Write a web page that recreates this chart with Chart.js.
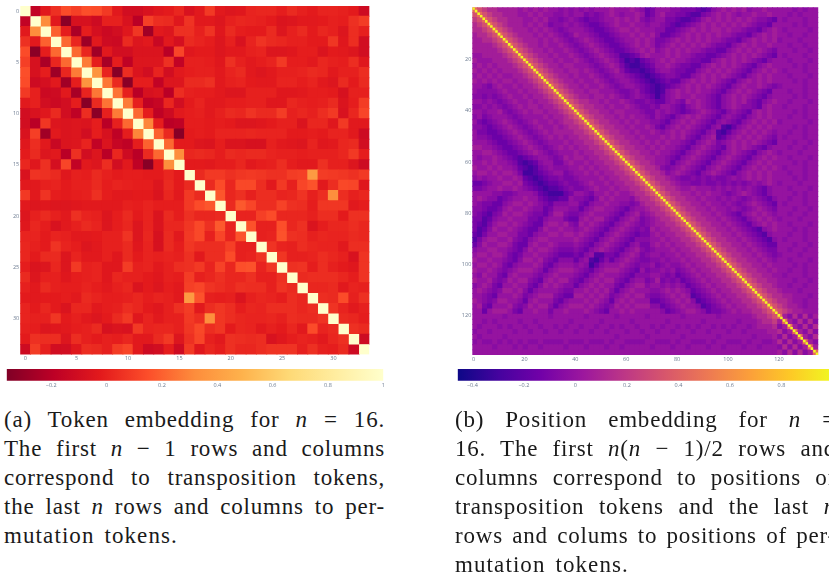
<!DOCTYPE html>
<html>
<head>
<meta charset="utf-8">
<title>Embedding heatmaps</title>
<script src="https://cdn.jsdelivr.net/npm/chart.js@4/dist/chart.umd.min.js"></script>
<style>
html, body { margin: 0; padding: 0; background: #fff; width: 829px; height: 578px; overflow: hidden; }
canvas { position: absolute; }
.line { position: absolute; width: 381px; height: 29px; line-height: 29px; font-family: "Liberation Serif", serif; font-size: 23px; letter-spacing: 0.8px; color: #1a1a1a; text-align: justify; text-align-last: justify; }
.last { text-align: left; text-align-last: left; letter-spacing: 1.1px; word-spacing: 3px; }
</style>
</head>
<body>
<canvas id="graficoToken" style="left:0;top:0;width:385px;height:365px"></canvas>
<canvas id="graficoPosicion" style="left:455px;top:0;width:374px;height:366px"></canvas>
<canvas id="barraToken" style="left:0;top:365px;width:390px;height:30px"></canvas>
<canvas id="barraPosicion" style="left:455px;top:365px;width:390px;height:30px"></canvas>

<div class="line" style="left:4px;top:405px">(a) Token embedding for <i>n</i> = 16.</div>
<div class="line" style="left:4px;top:434px">The first <i>n</i> − 1 rows and columns</div>
<div class="line" style="left:4px;top:463px">correspond to transposition tokens,</div>
<div class="line" style="left:4px;top:492px">the last <i>n</i> rows and columns to per-</div>
<div class="line last" style="left:4px;top:521px">mutation tokens.</div>

<div class="line" style="left:455px;top:405px">(b) Position embedding for <i>n</i> =</div>
<div class="line" style="left:455px;top:434px">16. The first <i>n</i>(<i>n</i> − 1)/2 rows and</div>
<div class="line" style="left:455px;top:463px">columns correspond to positions of</div>
<div class="line" style="left:455px;top:492px">transposition tokens and the last <i>n</i></div>
<div class="line" style="left:455px;top:521px">rows and colums to positions of per-</div>
<div class="line last" style="left:455px;top:550px">mutation tokens.</div>

<script>
// token embedding: upper triangle in hundredths, row r holds columns r+1..33
const tokenUpper = [
    [-17,-3,5,14,10,15,14,8,-3,-10,-10,-7,-4,-2,2,-7,-3,8,-3,-5,-4,1,2,2,-1,3,0,-2,1,1,0,-2,-12],
    [32,-3,-33,-8,-8,-12,0,0,-7,-20,10,4,3,-4,6,-3,-3,-5,0,2,1,0,-2,-6,-5,-3,-3,-2,0,-1,5,9],
    [20,-1,-24,-1,-9,-13,-10,-4,7,-27,-3,-5,5,5,0,6,-4,3,-1,-2,-2,3,-5,0,3,-2,2,0,-5,4,0],
    [22,2,-28,-3,-12,-13,3,-5,-3,-14,-3,-9,3,1,-1,-5,0,-7,1,6,3,2,0,0,-2,-2,7,-4,4,-10],
    [22,2,-27,-3,-10,-10,-6,-6,-6,-20,12,-4,-2,-2,-5,-3,-3,0,1,-5,-5,-4,-1,-1,-6,-2,-3,-5,-10],
    [27,-1,-25,-1,-18,-5,-5,-5,5,-17,0,0,-1,-4,5,0,-3,-1,1,8,-1,-1,-3,2,0,-1,4,-4],
    [35,1,-34,4,-6,-10,1,-10,-3,-1,0,0,-3,1,3,-3,-5,-3,0,0,1,3,2,-3,0,0,4],
    [26,3,-33,-1,-1,-17,-5,-5,3,3,5,-3,0,1,-2,-3,-3,1,1,-1,1,-3,-5,3,-2,3],
    [25,0,-20,-8,-6,-20,4,0,-1,-1,-3,-5,-5,0,0,0,-4,-4,-3,-1,-1,-2,-8,0,0],
    [27,0,-18,-15,2,-10,-2,1,-3,-3,-1,-1,0,0,-4,-4,2,0,-1,0,3,-6,-1,9],
    [22,-1,-18,-12,-3,-1,0,-3,0,3,2,6,3,3,9,0,2,0,4,8,-7,2,12],
    [30,-1,-20,-18,-1,-1,-2,-1,-2,-5,-5,-4,-2,0,0,-6,2,2,-4,8,-3,-3],
    [20,3,-34,-2,-1,-2,1,1,1,2,1,1,1,-2,-2,-1,-2,1,1,-3,-12],
    [22,-2,-2,-5,-6,-1,-6,-6,-8,-8,0,-3,-4,-5,1,-4,-3,2,3,-10],
    [33,2,3,2,-1,3,2,3,3,1,0,0,-1,0,0,0,2,8,-1],
    [-2,-2,-3,-1,-1,2,-3,-1,0,4,-1,-3,-3,5,0,0,-5,-12],
    [3,8,8,5,7,8,7,5,5,9,10,38,9,8,7,5,8],
    [3,14,2,13,13,4,-3,8,0,12,16,-3,4,13,12,-4],
    [17,2,5,0,4,4,1,2,6,0,4,33,4,0,2],
    [3,18,12,4,4,11,5,4,-1,7,7,7,-3,-1],
    [1,1,10,14,2,2,2,0,4,4,-2,5,5],
    [16,0,0,15,2,5,-6,-1,2,2,4,2],
    [0,1,16,5,4,0,2,1,1,3,2],
    [6,1,0,4,2,1,1,-3,4,4],
    [7,0,0,1,4,2,0,-7,6],
    [5,6,-1,4,0,-2,-4,6],
    [3,4,4,4,2,-1,6],
    [2,2,3,-3,1,0],
    [4,3,14,0,5],
    [6,1,-3,0],
    [3,2,-1],
    [5,3],
    [-12]
];

// position embedding: upper triangle read on a coarser grid of two-cell blocks,
// one character per block, row r starts at column r
const positionLevels = [-0.38, -0.30, -0.23, -0.16, -0.10, -0.05, 0, 0.06, 0.13, 0.22, 0.32, 0.45];
const positionRows = [
    'ba98877776 76767 66565 65656 66766 676534 666554 443235 676767566766 66656566',
    'ba9887776 67676 65565 66454 56765 667634 675544 322456 767656676676 66565666',
    'ba988777 66767 55456 54344 56676 767545 664432 234676 767676765543 65666566',
    'ba98777 67676 45565 65433 45676 676656 654323 456767 676767654436 66656566',
    'ba9877 76767 65456 66543 34567 767666 553345 676767 767665443567 65666656',
    'ba987 77676 76545 76654 33456 676767 533456 767676 766544356767 66566566',
    'ba98 77767 67654 56765 43345 667676 445676 767676 654435676767 56665666',
    'ba9 87767 66765 45676 54334 567676 456767 676765 443567676676 66566566',
    'ba 98776 76676 54567 65433 456767 567676 766544 335676767654 66656656',
    'b a9877 67667 65456 76542 234676 667676 654433 456767676543 65666566',
    'ba987 76766 76545 67653 121345 676766 544335 676767654356 66566656',
    'ba98 77677 66654 56764 211234 667654 433567 676765435676 66656566',
    'ba9 87767 76765 45675 322123 566544 335676 767654356767 65666566',
    'ba 98776 76676 54566 543212 345543 356767 676543567676 66566656',
    'b a9877 67667 65456 654321 234335 676767 654356767676 66656566',
    'ba987 76766 76545 665432 123456 767676 543567667654 56666566',
    'ba98 77677 66654 456432 125676 767665 435676765436 66566566',
    'ba9 87767 76765 456543 135676 676654 356767654356 66656566',
    'ba 98877 67667 654454 335654 767654 356767543567 66566656',
    'b a9887 76766 765445 466543 567654 356765543676 65666566',
    'ba988 77677 666544 656543 456765 435654367676 66656566',
    'ba98 87767 676654 654356 767654 356543567676 66566566',
    'ba9 88776 767665 543567 676543 565435676767 56666656',
    'ba 98877 676676 435676 765435 621356767676 66656566',
    'b a9887 767667 656767 654356 213567676765 66566566',
    'ba988 776766 676767 543567 235676767654 65666566',
    'ba98 877676 767665 435676 456767676543 66656656',
    'ba9 887767 676654 356765 436767654356 66566566',
    'ba 988776 766543 567654 356765435676 56665666',
    'b a98877 665435 676543 567654356767 66566656',
    'ba9887 665356 765435 676543567676 66656566',
    'ba988 754567 654356 765435676767 65666566',
    'ba98 875676 543567 654356767676 66566566',
    'ba9 887654 454545 445656767676 66656566',
    'ba 988765 544544 545454565676 56665666',
    'b a98876 676665 656565654356 66566656',
    'ba9887 767676 654567654356 66656566',
    'ba988 776766 565654565435 66566566',
    'ba98 877676 656545676543 65666566',
    'ba9 887767 665654567654 66656656',
    'ba 988776 765435676765 66566566',
    'b a98877 676543567676 56665666',
    'ba9887 767654356767 66566656',
    'ba988 776765432567 66656566',
    'ba98 877676543256 66566566',
    'ba9 887767654325 65666566',
    'ba 988776765433 66656656',
    'b a98877676544 66566566',
    'ba9887767654 56665666',
    'ba988776765 66566656',
    'ba98877676 66656566',
    'ba9887767 66566566',
    'ba988776 65666566',
    'ba98877 66656656',
    'ba9887 66566566',
    'ba988 76665666',
    'ba98 87766656',
    'ba9 88766566',
    'ba 98776566',
    'b a9877666',
    'b7585857',
    'b758585',
    'b75858',
    'b7585',
    'b758',
    'b75',
    'b7',
    'b'
];
const positionDiagonal = new Array(136).fill(1);

const tokenTicks = [0, 5, 10, 15, 20, 25, 30];
const positionTicksX = [0, 20, 40, 60, 80, 100, 120];
const positionTicksY = [20, 40, 60, 80, 100, 120];
const tokenBarTicks = [-0.2, 0, 0.2, 0.4, 0.6, 0.8, 1];
const positionBarTicks = [-0.4, -0.2, 0, 0.2, 0.4, 0.6, 0.8];
const tokenRange = [-0.361, 1];
const positionRange = [-0.457, 1];

const coloresToken = ['#800026', '#bd0026', '#e31a1c', '#fc4e2a', '#fd8d3c', '#feb24c', '#fed976', '#ffeda0', '#ffffcc'];
const coloresPosicion = ['#0d0887', '#46039f', '#7201a8', '#9c179e', '#bd3786', '#d8576b', '#ed7953', '#fb9f3a', '#fdca26', '#f0f921'];

const colorTick = '#6b7a90';
const fuenteTick = { family: 'Open Sans', size: 5.5 };

function hexRgb(h) {
    return [1, 3, 5].map(i => parseInt(h.substr(i, 2), 16));
}

function colorDe(valor, rango, colores) {
    let t = (valor - rango[0]) / (rango[1] - rango[0]);
    t = Math.max(0, Math.min(1, t)) * (colores.length - 1);
    const i = Math.min(Math.floor(t), colores.length - 2);
    const a = hexRgb(colores[i]);
    const b = hexRgb(colores[i + 1]);
    const f = t - i;
    return `rgb(${a.map((c, k) => Math.round(c + (b[k] - c) * f)).join(',')})`;
}

function puntosToken() {
    const pts = [];
    tokenUpper.forEach((fila, r) => {
        fila.forEach((val, k) => {
            const c = r + 1 + k;
            pts.push({ x: c, y: r, v: val / 100 });
            pts.push({ x: r, y: c, v: val / 100 });
        });
    });
    return pts;
}

function puntosPosicion() {
    const pts = [];
    positionRows.forEach((fila, r) => {
        fila.replace(/ /g, '').split('').forEach((ch, k) => {
            const c = r + k;
            const v = positionLevels['0123456789ab'.indexOf(ch)];
            pts.push({ x: c * 2 + 0.5, y: r * 2 + 0.5, v: v });
            if (c !== r) pts.push({ x: r * 2 + 0.5, y: c * 2 + 0.5, v: v });
        });
    });
    return pts;
}

// the rect point style is sqrt(2)*radius wide
function radioCelda(ctx, celdas, extra) {
    const x = ctx.chart.scales.x;
    return (Math.abs(x.getPixelForValue(1) - x.getPixelForValue(0)) * celdas + extra) * Math.SQRT1_2;
}

function datasetCeldas(datos, celdas, extra, rango, colores) {
    return {
        data: datos,
        parsing: false,
        pointStyle: 'rect',
        pointBorderWidth: 0,
        pointRadius: ctx => radioCelda(ctx, celdas, extra),
        pointBackgroundColor: ctx => colorDe(ctx.raw.v, rango, colores)
    };
}

function ejeCelda(n, ticks, reverso, ajuste) {
    return {
        type: 'linear',
        min: -0.5,
        max: n - 0.5,
        reverse: reverso,
        grid: { display: false, drawTicks: false },
        border: { display: false },
        afterBuildTicks: s => { s.ticks = ticks.map(v => ({ value: v })); },
        afterFit: ajuste,
        ticks: { color: colorTick, font: fuenteTick, padding: 1, maxRotation: 0, autoSkip: false }
    };
}

function heatmap(id, n, datasets, ticksX, ticksY, padding, anchoY, altoX) {
    return new Chart(document.getElementById(id), {
        type: 'scatter',
        data: { datasets: datasets },
        options: {
            responsive: false,
            animation: false,
            events: [],
            layout: { padding: padding },
            plugins: { legend: { display: false }, tooltip: { enabled: false } },
            scales: {
                x: ejeCelda(n, ticksX, false, s => { s.height = altoX; }),
                y: ejeCelda(n, ticksY, true, s => { s.width = anchoY; })
            }
        }
    });
}

function barraColor(id, rango, colores, ticks, padding) {
    return new Chart(document.getElementById(id), {
        type: 'bar',
        data: {
            labels: [''],
            datasets: [{
                data: [rango],
                barPercentage: 1,
                categoryPercentage: 1,
                backgroundColor: ctx => {
                    const area = ctx.chart.chartArea;
                    if (!area) return colores[0];
                    const g = ctx.chart.ctx.createLinearGradient(area.left, 0, area.right, 0);
                    colores.forEach((c, i) => g.addColorStop(i / (colores.length - 1), c));
                    return g;
                }
            }]
        },
        options: {
            indexAxis: 'y',
            responsive: false,
            animation: false,
            events: [],
            layout: { padding: padding },
            plugins: { legend: { display: false }, tooltip: { enabled: false } },
            scales: {
                y: { display: false },
                x: {
                    type: 'linear',
                    min: rango[0],
                    max: rango[1],
                    grid: { display: false, drawTicks: false },
                    border: { display: false },
                    afterBuildTicks: s => { s.ticks = ticks.map(v => ({ value: v })); },
                    afterFit: s => { s.height = 14.3; },
                    ticks: {
                        color: colorTick,
                        font: fuenteTick,
                        padding: 1,
                        maxRotation: 0,
                        autoSkip: false,
                        callback: v => (v < 0 ? '−' + Math.abs(v) : String(v))
                    }
                }
            }
        }
    });
}

const diagonalToken = tokenTicks.length ? new Array(34).fill(1).map((v, i) => ({ x: i, y: i, v: v })) : [];
heatmap('graficoToken', 34,
    [datasetCeldas(diagonalToken, 1, 0.1, tokenRange, coloresToken),
     datasetCeldas(puntosToken(), 1, 0.9, tokenRange, coloresToken)],
    tokenTicks, tokenTicks,
    { left: 0, top: 6, right: 15.6, bottom: 0 }, 20.2, 10.4);

const diagonal = positionDiagonal.map((v, i) => ({ x: i, y: i, v: v }));
heatmap('graficoPosicion', 136,
    [datasetCeldas(diagonal, 1, 0, positionRange, coloresPosicion),
     datasetCeldas(puntosPosicion(), 2, 0.9, positionRange, coloresPosicion)],
    positionTicksX, positionTicksY,
    { left: 0, top: 7.3, right: 10.7, bottom: 0 }, 17.3, 11);

barraColor('barraToken', tokenRange, coloresToken, tokenBarTicks, { left: 6.7, right: 6.7, top: 4, bottom: 0 });
barraColor('barraPosicion', positionRange, coloresPosicion, positionBarTicks, { left: 2.7, right: 12, top: 4, bottom: 0 });
</script>
</body>
</html>
